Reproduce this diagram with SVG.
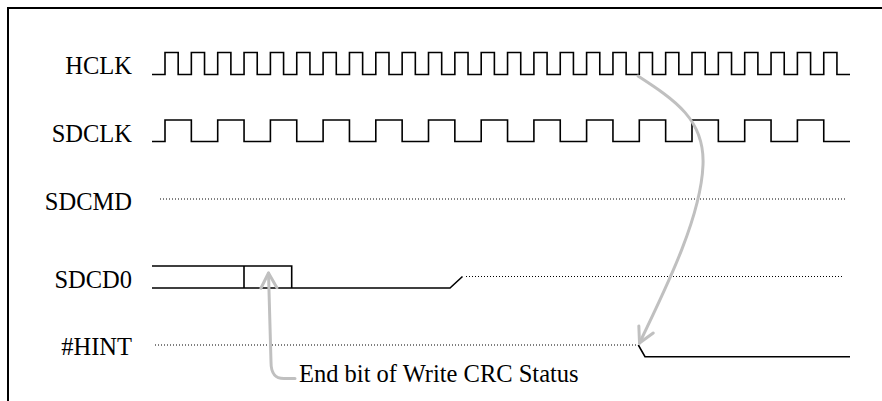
<svg xmlns="http://www.w3.org/2000/svg" width="882" height="401" viewBox="0 0 882 401">
<style>
.lbl{font-family:"Liberation Serif","Times New Roman",serif;font-size:24.5px;fill:#000}
.wave{fill:none;stroke:#000;stroke-width:1.6;stroke-linejoin:miter}
.dot{fill:none;stroke:#000;stroke-width:1;stroke-dasharray:1 2}
.conn{fill:none;stroke:#c0c0c0;stroke-width:3;stroke-linecap:round}
</style>
<defs>
<marker id="vhead" viewBox="-18 -10 20 20" markerWidth="20" markerHeight="20" refX="0" refY="0" markerUnits="userSpaceOnUse" orient="auto">
<path d="M -15 -8 L 0 0 L -15 8" fill="none" stroke="#c0c0c0" stroke-width="3" stroke-linecap="round" stroke-linejoin="round"/>
</marker>
</defs>
<rect width="882" height="401" fill="#fff"/>
<path d="M 8 401 L 8 8 L 882 8" fill="none" stroke="#000" stroke-width="2"/>
<g id="hclk">
<text class="lbl" x="132" y="74" text-anchor="end">HCLK</text>
<path class="wave" d="M152 74.5 H165 V52.5 H178.18 V74.5 H191.35 V52.5 H204.53 V74.5 H217.7 V52.5 H230.88 V74.5 H244.05 V52.5 H257.23 V74.5 H270.4 V52.5 H283.58 V74.5 H296.75 V52.5 H309.93 V74.5 H323.1 V52.5 H336.28 V74.5 H349.45 V52.5 H362.63 V74.5 H375.8 V52.5 H388.98 V74.5 H402.15 V52.5 H415.33 V74.5 H428.5 V52.5 H441.68 V74.5 H454.85 V52.5 H468.03 V74.5 H481.2 V52.5 H494.38 V74.5 H507.55 V52.5 H520.73 V74.5 H533.9 V52.5 H547.08 V74.5 H560.25 V52.5 H573.43 V74.5 H586.6 V52.5 H599.78 V74.5 H612.95 V52.5 H626.13 V74.5 H639.3 V52.5 H652.48 V74.5 H665.65 V52.5 H678.83 V74.5 H692 V52.5 H705.18 V74.5 H718.35 V52.5 H731.53 V74.5 H744.7 V52.5 H757.88 V74.5 H771.05 V52.5 H784.23 V74.5 H797.4 V52.5 H810.58 V74.5 H823.75 V52.5 H836.93 V74.5 H850"/>
</g>
<g id="sdclk">
<text class="lbl" x="132" y="141.5" text-anchor="end">SDCLK</text>
<path class="wave" d="M152 141.5 H165 V120 H191.35 V141.5 H217.7 V120 H244.05 V141.5 H270.4 V120 H296.75 V141.5 H323.1 V120 H349.45 V141.5 H375.8 V120 H402.15 V141.5 H428.5 V120 H454.85 V141.5 H481.2 V120 H507.55 V141.5 H533.9 V120 H560.25 V141.5 H586.6 V120 H612.95 V141.5 H639.3 V120 H665.65 V141.5 H692 V120 H718.35 V141.5 H744.7 V120 H771.05 V141.5 H797.4 V120 H823.75 V141.5 H850"/>
</g>
<g id="sdcmd">
<text class="lbl" x="132" y="210" text-anchor="end">SDCMD</text>
<path class="dot" d="M160 199 H847"/>
</g>
<g id="sdcd0">
<text class="lbl" x="132" y="287.5" text-anchor="end">SDCD0</text>
<path class="wave" d="M152 266 H291.7 V288 M152 288 H450 L462.5 276.5 M244 266 V288"/>
<path class="dot" d="M466 276.5 H843"/>
</g>
<g id="hint">
<text class="lbl" x="132" y="355" text-anchor="end">#HINT</text>
<path class="dot" d="M155 345 H638"/>
<path class="wave" d="M638.3 345 L645 356.7 H850"/>
</g>
<g id="caption">
<text class="lbl" x="299" y="381.5">End bit of Write CRC Status</text>
</g>
<g id="connectors">
<path class="conn" marker-end="url(#vhead)" d="M638 76 C675 100 705 120 703 165 C701 215 670 280 639.5 343"/>
<path class="conn" marker-end="url(#vhead)" d="M295 378.5 L284 378.5 C274 378.5 271 372 271 362 L268.5 273"/>
</g>
</svg>
